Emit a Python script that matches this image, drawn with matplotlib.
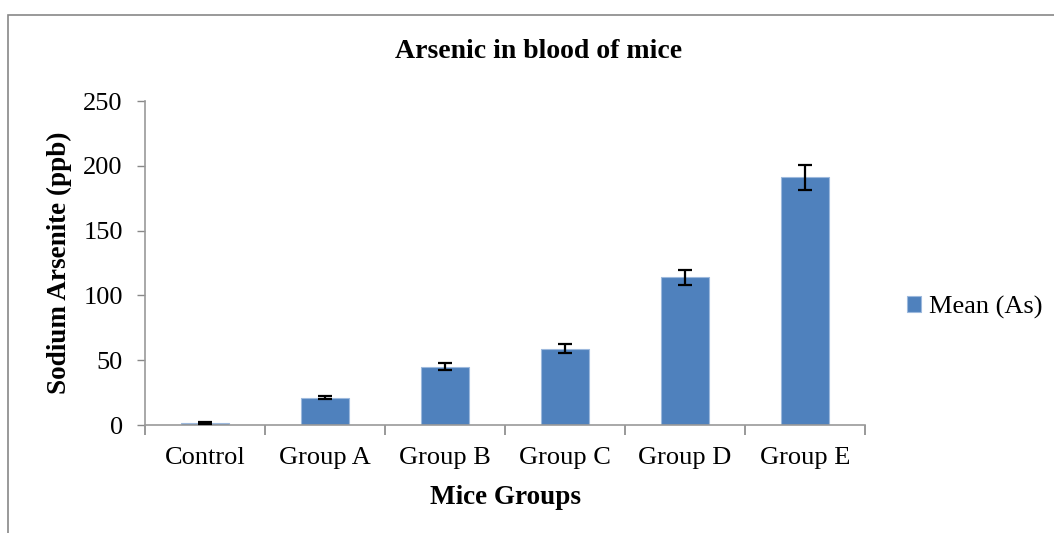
import numpy as np
from matplotlib import pyplot as plt
from matplotlib.patches import Rectangle

# Data
groups = ["Control", "Group A", "Group B", "Group C", "Group D", "Group E"]
mean_as = [1.5, 21, 45, 59, 114, 191]
err_as = [0.6, 1.2, 2.5, 3.2, 5.8, 9.6]
y_ticks = [0, 50, 100, 150, 200, 250]

plt.rcParams['font.family'] = ['Liberation Serif', 'DejaVu Serif']

fig = plt.figure(figsize=(10.54, 5.33), dpi=100)
ax = fig.add_axes([145 / 1054, 1 - 425 / 533, 720 / 1054, 324 / 533])

x = np.arange(len(groups))
bars = ax.bar(x, mean_as, width=0.4, color="#4F81BD", edgecolor="#9DB9DD",
              linewidth=0.8, label="Mean (As)", zorder=2)
ax.errorbar(x, mean_as, yerr=err_as, fmt="none", ecolor="black",
            elinewidth=1.6, capsize=5, capthick=1.6, zorder=3)

ax.set_xlim(-0.5, len(groups) - 0.5)
ax.set_ylim(0, 250)
ax.set_yticks(y_ticks)
ax.tick_params(axis="y", labelsize=19, length=6, width=1, color="#888888", pad=10)

# category labels centred, ticks between categories
ax.set_xticks(x)
ax.set_xticklabels(groups, fontsize=19)
ax.tick_params(axis="x", which="major", length=0, pad=16)
ax.set_xticks(np.arange(len(groups) + 1) - 0.5, minor=True)
ax.tick_params(axis="x", which="minor", length=7, width=1.2, color="#888888")

for side in ["top", "right"]:
    ax.spines[side].set_visible(False)
for side in ["left", "bottom"]:
    ax.spines[side].set_color("#999999")
    ax.spines[side].set_linewidth(1.2)

# title is centred on the whole chart area, not the plot area
fig.text(539 / 1054, 1 - 52 / 533, "Arsenic in blood of mice", fontsize=20,
         fontweight="bold", ha="center", va="center")
ax.set_xlabel("Mice Groups", fontsize=19.5, fontweight="bold", labelpad=11)
ax.set_ylabel("Sodium Arsenite (ppb)", fontsize=19.5, fontweight="bold", labelpad=8)

leg = fig.legend(handles=[bars], labels=["Mean (As)"], loc="center left",
                 bbox_to_anchor=(896 / 1054, 1 - 307 / 533), frameon=False,
                 fontsize=19, handlelength=0.55, handleheight=0.55,
                 handletextpad=0.3, borderaxespad=0)

# outer chart border
fig.patches.append(Rectangle((8 / 1054, -0.1), 1.2, 1.1 - 15 / 533,
                             transform=fig.transFigure, fill=False,
                             edgecolor="#888888", linewidth=1.2, clip_on=False))

fig.savefig("out.png", dpi=100)
